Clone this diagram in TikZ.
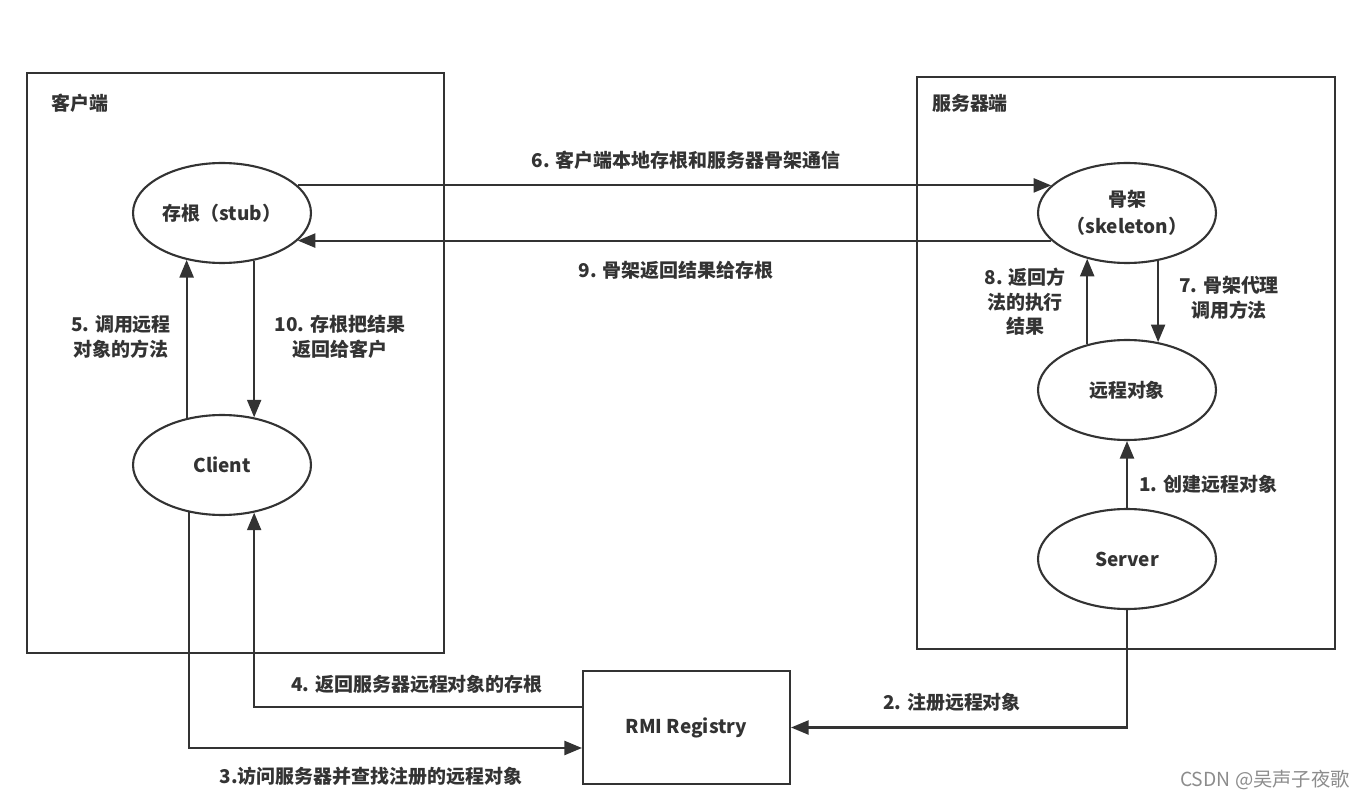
\documentclass[tikz,border=0pt]{standalone}
\usepackage{fontspec}
\setmainfont{Noto Sans CJK SC}
\usetikzlibrary{shapes.geometric,arrows.meta}
\definecolor{ink}{HTML}{333333}
\tikzset{
  obj/.style={draw=ink, line width=1.2pt, ellipse, minimum width=3.56cm, minimum height=2cm,
    inner sep=0pt, align=center, text=ink, font=\fontsize{10.8}{15.5}\selectfont\bfseries},
  regbox/.style={draw=ink, line width=1.2pt, minimum width=4.14cm, minimum height=2.26cm,
    text=ink, font=\fontsize{10.8}{14}\selectfont\bfseries},
  link/.style={draw=ink, line width=1.2pt, -{Triangle[length=10pt,width=8pt]}},
  lbl/.style={align=center, text=ink, font=\fontsize{10.8}{14}\selectfont\bfseries},
}
\begin{document}
\begin{tikzpicture}[x=0.02cm, y=-0.02cm]
  \useasboundingbox (0,0) rectangle (1366,800);

  % the two sides
  \draw[ink, line width=1.2pt] (27,73) rectangle (444,653);
  \draw[ink, line width=1.2pt] (917,77) rectangle (1335,649);
  \node[lbl] (clientside) at (80,103) {客户端};
  \node[lbl] (serverside) at (970,103) {服务器端};

  % objects
  \node[obj] (stub) at (222,213) {存根（stub）};
  \node[obj] (client) at (222,465) {Client};
  \node[obj] (skeleton) at (1127,213) {骨架\\（skeleton）};
  \node[obj] (remote) at (1127,390) {远程对象};
  \node[obj] (server) at (1127,559) {Server};
  \node[regbox] (registry) at (686.5,727.5) {RMI Registry};

  % calls between stub and skeleton
  \draw[link] (stub.20) -- (skeleton.160);
  \draw[link] (skeleton.200) -- (stub.-20);
  \node[lbl] at (686,160) {6. 客户端本地存根和服务器骨架通信};
  \node[lbl] at (676,270) {9. 骨架返回结果给存根};

  % client side
  \draw[link] (client.127) -- (stub.233);
  \draw[link] (stub.-56) -- (client.56);
  \node[lbl] at (121,337) {5. 调用远程\\对象的方法};
  \node[lbl] at (340,337) {10. 存根把结果\\返回给客户};

  % server side
  \draw[link] (remote.131) -- (skeleton.229);
  \draw[link] (skeleton.-57.5) -- (remote.57.5);
  \draw[link] (server.north) -- (remote.south);
  \node[lbl] at (1025,302) {8. 返回方\\法的执行\\结果};
  \node[lbl] at (1229,298) {7. 骨架代理\\调用方法};
  \node[lbl, anchor=west] at (1133,484) {1. 创建远程对象};

  % registry
  \draw[link] (server.south) |- (registry.east);
  \draw[link] (client.235) |- ([yshift=-0.41cm]registry.west);
  \draw[link] ([yshift=0.41cm]registry.west) -| (client.-56.5);
  \node[lbl] at (952,702) {2. 注册远程对象};
  \node[lbl] at (371,776) {3.访问服务器并查找注册的远程对象};
  \node[lbl] at (417,684) {4. 返回服务器远程对象的存根};

  \node[text=black!45, font=\fontsize{11}{13}\selectfont] (mark) at (1265,780) {CSDN @吴声子夜歌};
\end{tikzpicture}
\end{document}
